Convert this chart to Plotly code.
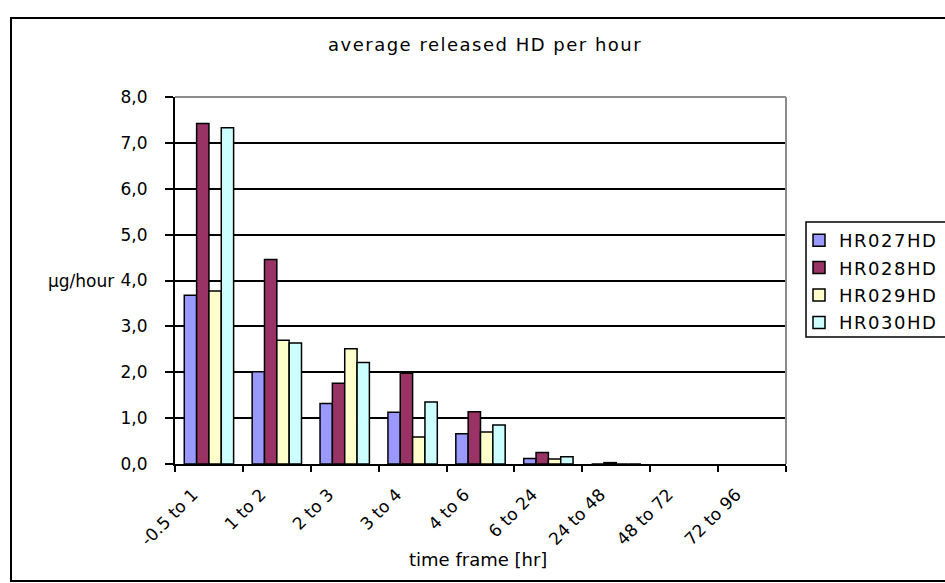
import plotly.graph_objects as go

# time frames on the x axis
categories = ["-0.5 to 1", "1 to 2", "2 to 3", "3 to 4", "4 to 6",
              "6 to 24", "24 to 48", "48 to 72", "72 to 96"]

# average released HD per hour (µg/hour) for each sample
hr027hd = [3.68, 2.01, 1.32, 1.13, 0.66, 0.12, 0.0, None, None]
hr028hd = [7.42, 4.46, 1.76, 1.98, 1.14, 0.25, 0.03, None, None]
hr029hd = [3.77, 2.70, 2.51, 0.59, 0.70, 0.11, 0.0, None, None]
hr030hd = [7.33, 2.64, 2.21, 1.35, 0.85, 0.16, 0.0, None, None]

series_names = ["HR027HD", "HR028HD", "HR029HD", "HR030HD"]
series_values = [hr027hd, hr028hd, hr029hd, hr030hd]
series_colors = ["#9999FF", "#993366", "#FFFFCC", "#CCFFFF"]

y_ticks = [0, 1, 2, 3, 4, 5, 6, 7, 8]

W, H = 945, 583
L, R, T, B = 175, 786, 97, 464  # plot area in pixels
FONT = "DejaVu Sans, Verdana, sans-serif"


def px_x(px):
    return (px - L) / (R - L)


def px_y(py):
    return (B - py) / (B - T)


def spaced(text, px):
    return f'<span style="letter-spacing:{px}px">{text}</span>'


fig = go.Figure()
for name, vals, col in zip(series_names, series_values, series_colors):
    fig.add_trace(go.Bar(
        name=spaced(name, 1.5), x=categories, y=vals, legendgroup=name,
        marker=dict(color=col, line=dict(color="black", width=1.5)),
    ))

fig.update_layout(
    width=W, height=H,
    margin=dict(l=L, r=W - R, t=T, b=H - B, pad=0, autoexpand=False),
    paper_bgcolor="white", plot_bgcolor="white",
    separators=",.",
    barmode="group", bargap=0.273, bargroupgap=0,
    font=dict(family=FONT, size=17, color="black"),
    showlegend=True,
    legend=dict(
        x=px_x(799), y=px_y(222), xanchor="left", yanchor="top",
        borderwidth=0, bgcolor="rgba(0,0,0,0)",
        font=dict(family=FONT, size=18, color="black"),
        itemwidth=30, tracegroupgap=1,
    ),
)

fig.update_xaxes(
    type="category", categoryorder="array", categoryarray=categories,
    tickson="boundaries", ticks="outside", ticklen=6, tickwidth=1.5,
    tickcolor="black", tickangle=-45,
    ticklabelshift=-16, ticklabelstandoff=12,
    showline=True, linecolor="black", linewidth=2,
    showgrid=False, tickfont=dict(size=17),
)
fig.update_yaxes(
    range=[0, 8], tickvals=y_ticks, tickformat=".1f",
    ticks="outside", ticklen=8, tickwidth=1.5, tickcolor="black",
    ticklabelstandoff=14,
    showline=True, linecolor="black", linewidth=2,
    showgrid=True, gridcolor="black", gridwidth=1.5,
    zeroline=False, tickfont=dict(size=17),
)

# plot area frame (grey top and right edges)
fig.add_shape(type="line", xref="paper", yref="paper", x0=0, x1=1, y0=1, y1=1,
              line=dict(color="#8c8c8c", width=2), layer="above")
fig.add_shape(type="line", xref="paper", yref="paper", x0=1, x1=1, y0=0, y1=1,
              line=dict(color="#8c8c8c", width=2), layer="above")

# chart area border
fig.add_shape(type="rect", xref="paper", yref="paper",
              x0=px_x(11), x1=px_x(990), y0=px_y(581), y1=px_y(18),
              line=dict(color="black", width=2), layer="below")

# legend frame, running past the right edge of the chart
fig.add_shape(type="rect", xref="paper", yref="paper",
              x0=px_x(806), x1=px_x(990), y0=px_y(337), y1=px_y(222),
              line=dict(color="black", width=1.5), fillcolor="white", layer="below")

# titles
fig.add_annotation(text=spaced("average released HD per hour", 1.5),
                   xref="paper", yref="paper",
                   x=px_x(485), y=px_y(45), showarrow=False,
                   font=dict(size=18), xanchor="center", yanchor="middle")
fig.add_annotation(text="µg/hour", xref="paper", yref="y",
                   x=px_x(116), y=4, showarrow=False,
                   font=dict(size=17), xanchor="right", yanchor="middle")
fig.add_annotation(text="time frame [hr]", xref="paper", yref="paper",
                   x=px_x(478), y=px_y(559), showarrow=False,
                   font=dict(size=18), xanchor="center", yanchor="middle")

fig.write_html("out.html")
